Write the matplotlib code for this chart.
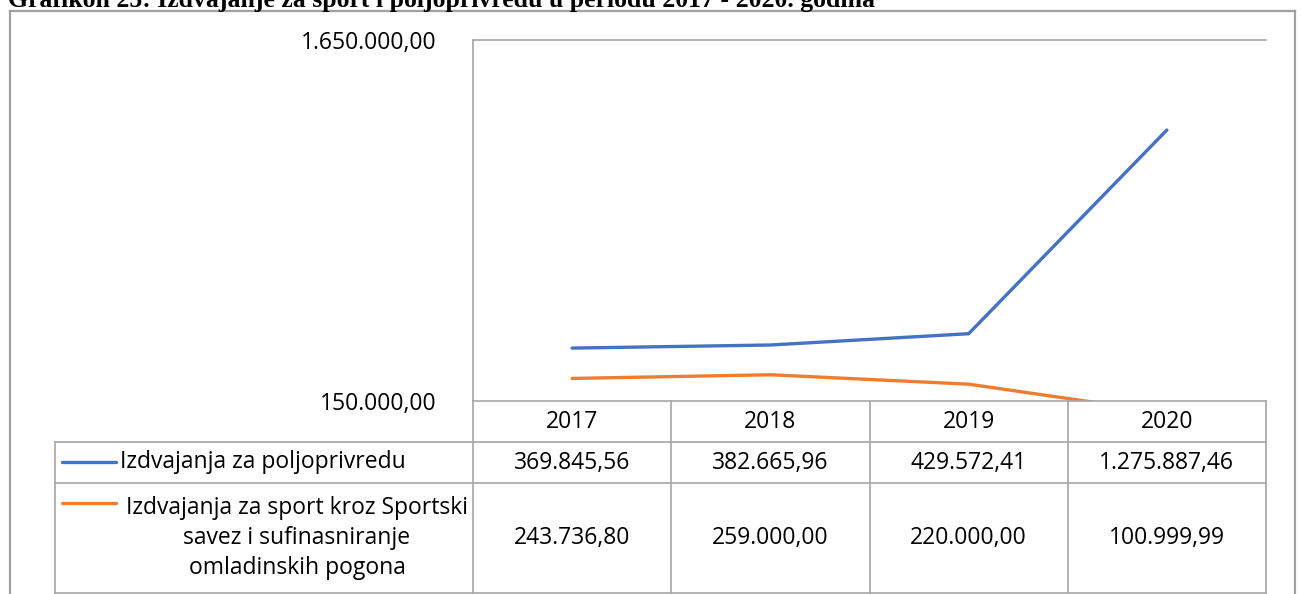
import matplotlib.pyplot as plt
from matplotlib.lines import Line2D

# data
years = ["2017", "2018", "2019", "2020"]
poljoprivreda = [369845.56, 382665.96, 429572.41, 1275887.46]
sport = [243736.80, 259000.00, 220000.00, 100999.99]
series_labels = ["Izdvajanja za poljoprivredu",
                 "Izdvajanja za sport kroz Sportski\nsavez i sufinasniranje\nomladinskih pogona"]
series_colors = ["#4472C4", "#ED7D31"]
y_min, y_max = 150000, 1650000
title = "Grafikon 25: Izdvajanje za sport i poljoprivredu u periodu 2017 - 2020. godina"

W, H = 1301, 594
FONT = "Open Sans"
FS = 16.5
GRID = "#A6A6A6"


def fmt(v):
    s = f"{v:,.2f}"
    return s.replace(",", "X").replace(".", ",").replace("X", ".")


def fx(px):
    return px / W


def fy(py):
    return 1 - py / H


fig = plt.figure(figsize=(W / 100, H / 100), dpi=100)

# plot area
left, right, top, bottom = 473, 1266, 40, 401
ax = fig.add_axes([fx(left), fy(bottom), fx(right - left), fy(top) - fy(bottom)])
xs = range(len(years))
for vals, c in zip([poljoprivreda, sport], series_colors):
    ax.plot(xs, vals, color=c, lw=2.4, solid_capstyle="round")
ax.set_xlim(-0.5, len(years) - 0.5)
ax.set_ylim(y_min, y_max)
ax.set_yticks([y_min, y_max])
ax.set_yticklabels([fmt(y_min), fmt(y_max)], fontfamily=FONT, fontsize=FS)
ax.tick_params(axis="y", length=0, pad=26)
ax.set_xticks([])
for s in ["right", "bottom"]:
    ax.spines[s].set_visible(False)
ax.spines["left"].set_color(GRID)
ax.spines["top"].set_color(GRID)
ax.spines["left"].set_linewidth(1.2)
ax.spines["top"].set_linewidth(1.2)


def hline(y, x0, x1, color=GRID, lw=1.2):
    fig.add_artist(Line2D([fx(x0), fx(x1)], [fy(y), fy(y)], color=color, lw=lw))


def vline(x, y0, y1, color=GRID, lw=1.2):
    fig.add_artist(Line2D([fx(x), fx(x)], [fy(y0), fy(y1)], color=color, lw=lw))


# data table below the axis
tab_left = 55
row_y = [401, 442, 483, 593]
col_w = (right - left) / len(years)
col_x = [left + i * col_w for i in range(len(years) + 1)]
hline(row_y[0], left, right)
for y in row_y[1:]:
    hline(y, tab_left, right)
vline(tab_left, row_y[1], row_y[3])
for x in col_x:
    vline(x, row_y[0], row_y[3])

for i, yr in enumerate(years):
    cx = (col_x[i] + col_x[i + 1]) / 2
    fig.text(fx(cx), fy((row_y[0] + row_y[1]) / 2), yr, ha="center", va="center",
             fontfamily=FONT, fontsize=FS)
    for r, vals in enumerate([poljoprivreda, sport]):
        cy = (row_y[r + 1] + row_y[r + 2]) / 2
        fig.text(fx(cx), fy(cy), fmt(vals[i]), ha="center", va="center",
                 fontfamily=FONT, fontsize=FS)

# legend keys + row labels
key_y = [462, 503]
label_cx = [263, 297]
for r in range(2):
    fig.add_artist(Line2D([fx(62), fx(116)], [fy(key_y[r]), fy(key_y[r])],
                          color=series_colors[r], lw=2.4, solid_capstyle="round"))
    cy = (row_y[r + 1] + row_y[r + 2]) / 2
    fig.text(fx(label_cx[r]), fy(cy), series_labels[r], ha="center", va="center",
             multialignment="center", fontfamily=FONT, fontsize=FS, linespacing=1.35)

# outer chart border
hline(11, 10, 1295, color="#A0A0A0", lw=1.6)
vline(10, 11, H, color="#A0A0A0", lw=1.6)
vline(1295, 11, H, color="#A0A0A0", lw=1.6)

# caption, cut by the top edge like the source
fig.text(fx(8), fy(7), title, ha="left", va="baseline", fontfamily="Liberation Serif",
         fontweight="bold", fontsize=18.5)

fig.savefig("out.png", dpi=100)
